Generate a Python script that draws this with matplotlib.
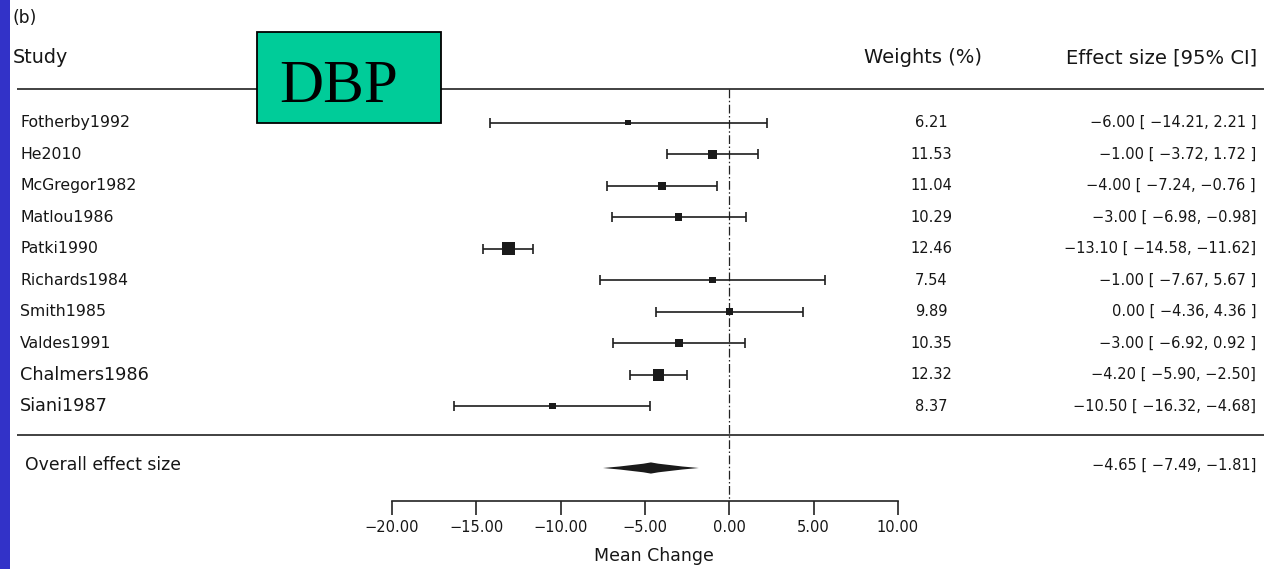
import numpy as np
import matplotlib
matplotlib.use("Agg")
import matplotlib.pyplot as plt
import matplotlib.transforms as mtransforms
from matplotlib.patches import Rectangle, PathPatch
from matplotlib.path import Path

# ---------------- data ----------------
studies = ["Fotherby1992", "He2010", "McGregor1982", "Matlou1986", "Patki1990",
           "Richards1984", "Smith1985", "Valdes1991", "Chalmers1986", "Siani1987"]
estimates = [-6.00, -1.00, -4.00, -3.00, -13.10, -1.00, 0.00, -3.00, -4.20, -10.50]
ci_lower = [-14.21, -3.72, -7.24, -6.98, -14.58, -7.67, -4.36, -6.92, -5.90, -16.32]
ci_upper = [2.21, 1.72, -0.76, 0.98, -11.62, 5.67, 4.36, 0.92, -2.50, -4.68]
weights = [6.21, 11.53, 11.04, 10.29, 12.46, 7.54, 9.89, 10.35, 12.32, 8.37]
ci_labels = ["\u22126.00 [ \u221214.21, 2.21 ]",
             "\u22121.00 [ \u22123.72, 1.72 ]",
             "\u22124.00 [ \u22127.24, \u22120.76 ]",
             "\u22123.00 [ \u22126.98, \u22120.98]",
             "\u221213.10 [ \u221214.58, \u221211.62]",
             "\u22121.00 [ \u22127.67, 5.67 ]",
             "0.00 [ \u22124.36, 4.36 ]",
             "\u22123.00 [ \u22126.92, 0.92 ]",
             "\u22124.20 [ \u22125.90, \u22122.50]",
             "\u221210.50 [ \u221216.32, \u22124.68]"]
overall_est = -4.65
overall_lo = -7.49
overall_hi = -1.81
overall_label = "\u22124.65 [ \u22127.49, \u22121.81]"
xticks = [-20, -15, -10, -5, 0, 5, 10]
xtick_labels = ["\u221220.00", "\u221215.00", "\u221210.00", "\u22125.00", "0.00", "5.00", "10.00"]

# ---------------- layout ----------------
plt.rcParams["font.family"] = ["DejaVu Sans"]
W, H = 1264, 569
fig = plt.figure(figsize=(W / 100, H / 100), dpi=100)
fig.patch.set_facecolor("white")

AX_L_PX, AX_R_PX = 392, 898      # pixel positions of -20 and 10
XMIN, XMAX = -20, 10
ppu = (AX_R_PX - AX_L_PX) / (XMAX - XMIN)
ROW0_PX, PITCH = 122.7, 31.5

ax = fig.add_axes([0, 0, 1, 1])
ax.set_xlim(XMIN - AX_L_PX / ppu, XMAX + (W - AX_R_PX) / ppu)
ax.set_ylim((H - ROW0_PX) / PITCH, -ROW0_PX / PITCH)
ax.axis("off")


def prow(px):
    return (px - ROW0_PX) / PITCH


tr = mtransforms.blended_transform_factory(ax.transAxes, ax.transData)
TXT = "#161616"
LINE = "#333333"

n = len(studies)
rows = np.arange(n)
est = np.array(estimates)
lo = np.array(ci_lower)
hi = np.array(ci_upper)

# separators
y_top, y_bot = prow(89), prow(435)
for yy in (y_top, y_bot):
    ax.plot([17 / W, 1.0], [yy, yy], transform=tr, color=LINE, lw=1.3,
            solid_capstyle="butt")

# reference line
y_axis = prow(501)
ax.plot([0, 0], [y_top, y_axis], color="#222222", lw=0.9, ls=(0, (7, 2, 1.2, 2)))

# error bars
ax.errorbar(est, rows, xerr=[est - lo, hi - est], fmt="none", ecolor="#1e1e1e",
            elinewidth=1.2, capsize=3.8, capthick=1.2, zorder=2)

# squares sized by inverse variance
vi = ((hi - lo) / 3.92) ** 2
wi = 1 / vi
norm = ((wi - wi.min()) / (wi.max() - wi.min())) ** 0.6
side_px = 5.6 + 7.2 * norm
ax.scatter(est, rows, marker="s", s=(side_px * 0.72) ** 2, color="#1a1a1a",
           linewidths=0, zorder=3)

# overall diamond (slightly concave spindle)
y_ov = prow(468)
h = 5.6 / PITCH
verts = [(overall_lo, y_ov),
         (overall_est - 0.25 * (overall_est - overall_lo), y_ov - 0.55 * h), (overall_est, y_ov - h),
         (overall_est + 0.25 * (overall_hi - overall_est), y_ov - 0.55 * h), (overall_hi, y_ov),
         (overall_est + 0.25 * (overall_hi - overall_est), y_ov + 0.55 * h), (overall_est, y_ov + h),
         (overall_est - 0.25 * (overall_est - overall_lo), y_ov + 0.55 * h), (overall_lo, y_ov)]
codes = [Path.MOVETO, Path.CURVE3, Path.CURVE3, Path.CURVE3, Path.CURVE3,
         Path.CURVE3, Path.CURVE3, Path.CURVE3, Path.CURVE3]
ax.add_patch(PathPatch(Path(verts, codes), facecolor="#1a1a1a", edgecolor="none", zorder=3))

# text columns
for i, name in enumerate(studies):
    fs = 12.7 if name in ("Chalmers1986", "Siani1987") else 11.3
    ax.text(20 / W, i, name, transform=tr, ha="left", va="center",
            fontsize=fs, color=TXT)
    ax.text(931 / W, i, f"{weights[i]:.2f}", transform=tr, ha="center",
            va="center", fontsize=10.5, color=TXT)
    ax.text(1256 / W, i, ci_labels[i], transform=tr, ha="right", va="center",
            fontsize=10.5, color=TXT)

ax.text(25 / W, prow(465), "Overall effect size", transform=tr, ha="left",
        va="center", fontsize=12.4, color=TXT)
ax.text(1256 / W, prow(465), overall_label, transform=tr, ha="right",
        va="center", fontsize=10.5, color=TXT)

# headers
ax.text(13 / W, prow(58), "Study", transform=tr, ha="left", va="center",
        fontsize=13.8, color=TXT)
ax.text(923 / W, prow(58), "Weights (%)", transform=tr, ha="center",
        va="center", fontsize=14, color=TXT)
ax.text(1257 / W, prow(58), "Effect size [95% CI]", transform=tr, ha="right",
        va="center", fontsize=14, color=TXT)
ax.text(12 / W, prow(18), "(b)", transform=tr, ha="left", va="center",
        fontsize=12.3, color=TXT)

# x axis
AXH = 10
ax2 = fig.add_axes([AX_L_PX / W, (H - 501) / H, (AX_R_PX - AX_L_PX) / W, AXH / H])
ax2.set_xlim(XMIN, XMAX)
ax2.patch.set_alpha(0)
for s in ("top", "left", "right"):
    ax2.spines[s].set_visible(False)
ax2.spines["bottom"].set_color("#222222")
ax2.spines["bottom"].set_linewidth(1.2)
ax2.set_yticks([])
ax2.set_xticks(xticks)
ax2.set_xticklabels(xtick_labels, fontsize=10.5, color=TXT)
ax2.tick_params(axis="x", direction="out", length=10, width=1.2,
                color="#222222", pad=4)
ax2.set_xlabel("Mean Change", fontsize=12.5, color=TXT)
ax2.xaxis.set_label_coords((654 - AX_L_PX) / (AX_R_PX - AX_L_PX), -(547 - 501) / AXH)

# decorations: blue strip and DBP label box
fig.patches.append(Rectangle((0, 0), 10 / W, 1, transform=fig.transFigure,
                             facecolor="#3232c8", edgecolor="none", zorder=5))
fig.patches.append(Rectangle((257 / W, 1 - 123 / H), (441 - 257) / W, (123 - 32) / H,
                             transform=fig.transFigure, facecolor="#00cc99",
                             edgecolor="black", linewidth=1.3, zorder=5))
fig.text(339 / W, 1 - 102 / H, "DBP", ha="center", va="baseline",
         fontsize=44, family="Liberation Serif", color="black", zorder=6)

fig.savefig("out.png", dpi=100)
